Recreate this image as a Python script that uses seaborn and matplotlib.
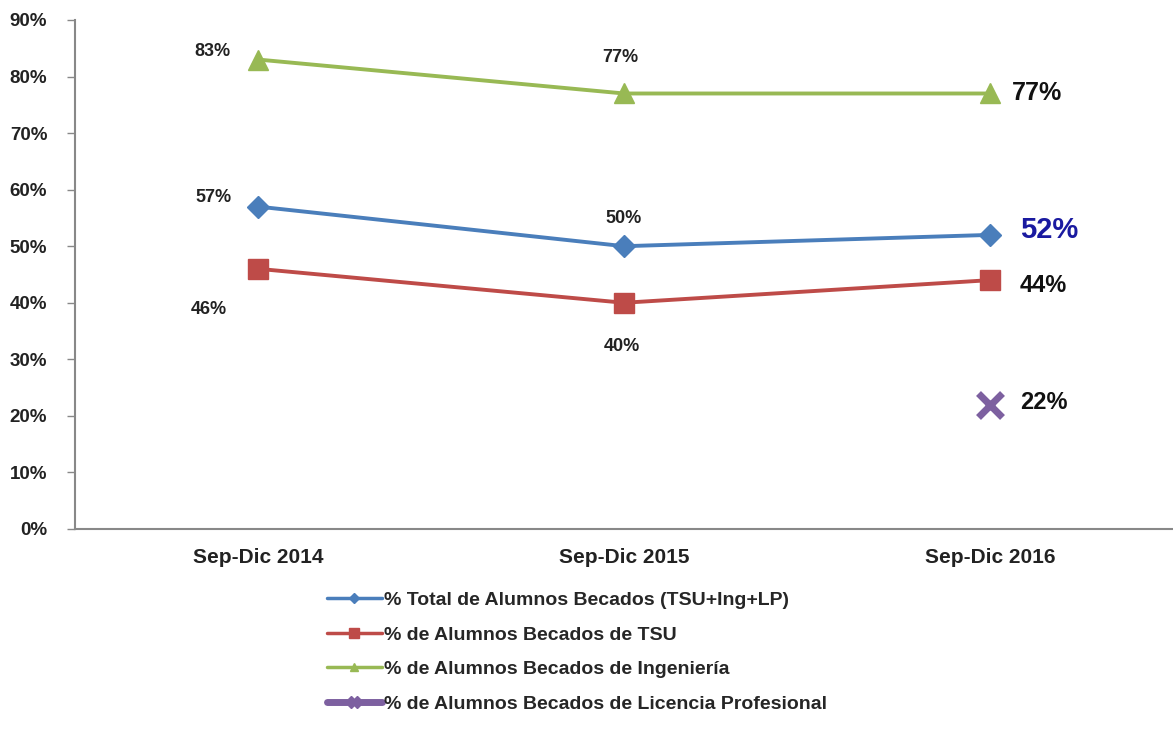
import numpy as np
import pandas as pd
import matplotlib
matplotlib.use('Agg')
import matplotlib.pyplot as plt
import seaborn as sns
from matplotlib.lines import Line2D

# ─── DATA ─────────────────────────────────────────────────────────────────────
PERIODOS = ['Sep-Dic 2014', 'Sep-Dic 2015', 'Sep-Dic 2016']
TOTAL = [57, 50, 52]
TSU = [46, 40, 44]
INGENIERIA = [83, 77, 77]
LIC_PROF = [np.nan, np.nan, 22]

SERIES = ['% Total de Alumnos Becados (TSU+Ing+LP)',
          '% de Alumnos Becados de TSU',
          '% de Alumnos Becados de Ingeniería',
          '% de Alumnos Becados de Licencia Profesional']
Y_TICKS = list(range(0, 91, 10))

# ─── STYLE ────────────────────────────────────────────────────────────────────
sns.set_style('white')
plt.rcParams['font.family'] = ['Liberation Sans', 'DejaVu Sans']
plt.rcParams['font.weight'] = 'bold'

BLUE = '#4A7EBB'
RED = '#BE4B48'
GREEN = '#98B954'
PURPLE = '#7D60A0'

fig = plt.figure(figsize=(11.73, 7.34), dpi=100)
ax = fig.add_axes([0.064, 0.2793, 0.936, 0.6935])

df = pd.DataFrame({'periodo': PERIODOS, 'total': TOTAL, 'tsu': TSU,
                   'ing': INGENIERIA, 'lp': LIC_PROF})

styles = {
    'total': dict(color=BLUE, marker='D', markersize=11, lw=2.8),
    'tsu': dict(color=RED, marker='s', markersize=14, lw=2.8),
    'ing': dict(color=GREEN, marker='^', markersize=14, lw=2.8),
    'lp': dict(color=PURPLE, marker='x', markersize=17, lw=2.8, markeredgewidth=5),
}

for col, name in zip(['total', 'tsu', 'ing', 'lp'], SERIES):
    sub = df.dropna(subset=[col])
    st = styles[col]
    sns.lineplot(data=sub, x='periodo', y=col, ax=ax, color=st['color'],
                 marker=st['marker'], markersize=st['markersize'],
                 linewidth=st['lw'], markeredgecolor=st['color'],
                 markeredgewidth=st.get('markeredgewidth', 1),
                 label=name, legend=False, sort=False)

# ─── DATA LABELS ──────────────────────────────────────────────────────────────
small = dict(fontsize=13, fontweight='bold', color='#222222', ha='center', va='center')
offs = {
    'ing': [(-46, 8), (-4, 36)],
    'total': [(-45, 9), (0, 28)],
    'tsu': [(-49, -41), (-2, -44)],
}
vals = {'total': TOTAL, 'tsu': TSU, 'ing': INGENIERIA}
for key, lst in offs.items():
    for i, (dx, dy) in enumerate(lst):
        ax.annotate(f'{vals[key][i]}%', (i, vals[key][i]), xytext=(dx, dy),
                    textcoords='offset pixels', **small)

# last period labels, larger
ax.annotate(f'{INGENIERIA[2]}%', (2, INGENIERIA[2]), xytext=(22, 0), textcoords='offset pixels',
            fontsize=18, fontweight='bold', color='#111111', ha='left', va='center')
ax.annotate(f'{TOTAL[2]}%', (2, TOTAL[2]), xytext=(30, 5), textcoords='offset pixels',
            fontsize=21, fontweight='bold', color='#1A1AA0', ha='left', va='center')
ax.annotate(f'{TSU[2]}%', (2, TSU[2]), xytext=(30, -5), textcoords='offset pixels',
            fontsize=17, fontweight='bold', color='#111111', ha='left', va='center')
ax.annotate(f'{LIC_PROF[2]:.0f}%', (2, LIC_PROF[2]), xytext=(30, 2), textcoords='offset pixels',
            fontsize=17, fontweight='bold', color='#111111', ha='left', va='center')

# ─── AXES ─────────────────────────────────────────────────────────────────────
ax.set_xlim(-0.5, 2.5)
ax.set_ylim(0, 90)
ax.set_yticks(Y_TICKS)
ax.set_yticklabels([f'{t}%' for t in Y_TICKS], fontsize=13.5, fontweight='bold', color='#222222')
ax.set_xticks(range(len(PERIODOS)))
ax.set_xticklabels(PERIODOS, fontsize=15, fontweight='bold', color='#222222')
ax.set_xlabel('')
ax.set_ylabel('')
ax.tick_params(axis='y', direction='out', length=6, width=1, color='#888888', pad=14, left=True)
ax.tick_params(axis='x', length=0, pad=14)
for s in ['top', 'right']:
    ax.spines[s].set_visible(False)
for s in ['left', 'bottom']:
    ax.spines[s].set_color('#888888')
    ax.spines[s].set_linewidth(1.5)

# ─── LEGEND ───────────────────────────────────────────────────────────────────
handles = [
    Line2D([], [], color=BLUE, marker='D', markersize=5, lw=2.5),
    Line2D([], [], color=RED, marker='s', markersize=7, lw=2.5),
    Line2D([], [], color=GREEN, marker='^', markersize=6, lw=2.5),
    Line2D([], [], color=PURPLE, marker='X', markersize=8, lw=5),
]
fig.legend(handles, SERIES, loc='upper left', bbox_to_anchor=(0.279, 0.194),
           frameon=False, handlelength=2.8, handletextpad=0.1,
           labelspacing=0.87, borderaxespad=0, borderpad=0,
           prop={'weight': 'bold', 'size': 14})

fig.savefig('out.png', dpi=100)
